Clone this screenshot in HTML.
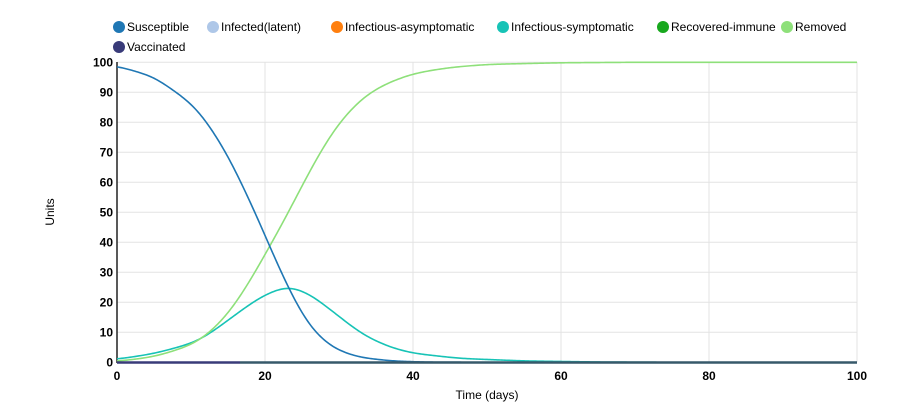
<!DOCTYPE html>
<html><head><meta charset="utf-8"><style>
body{margin:0;background:#fff;}
svg{display:block;font-family:"Liberation Sans",Arial,sans-serif;}
</style></head><body>
<svg id="s" width="908" height="416" xmlns="http://www.w3.org/2000/svg">
<g font-size="12" fill="#000">
<circle cx="119" cy="27" r="6" fill="#1f77b4"/><text x="127" y="31">Susceptible</text>
<circle cx="213" cy="27" r="6" fill="#aec7e8"/><text x="221" y="31">Infected(latent)</text>
<circle cx="337" cy="27" r="6" fill="#ff7f0e"/><text x="345" y="31">Infectious-asymptomatic</text>
<circle cx="503" cy="27" r="6" fill="#17c3b6"/><text x="511" y="31">Infectious-symptomatic</text>
<circle cx="663" cy="27" r="6" fill="#18a81e"/><text x="671" y="31">Recovered-immune</text>
<circle cx="787" cy="27" r="6" fill="#8ee07a"/><text x="795" y="31">Removed</text>
<circle cx="119" cy="47" r="6" fill="#393b79"/><text x="127" y="51">Vaccinated</text>
</g>
<g id="grid" stroke="#e3e3e3" stroke-width="1"></g>
<g id="lbl" font-size="12" font-weight="bold"></g>
<line x1="117" y1="62" x2="117" y2="363" stroke="#222" stroke-width="1.5"/>
<g id="lines" fill="none" stroke-width="1.6"></g>
<line x1="117" y1="362.5" x2="240" y2="362.5" stroke="#393b79" stroke-width="2.5"/>
<line x1="240" y1="362.5" x2="857" y2="362.5" stroke="#37596a" stroke-width="2.5"/>
<text x="487" y="399" font-size="12" text-anchor="middle">Time (days)</text>
<text transform="translate(54,212) rotate(-90)" font-size="12" text-anchor="middle">Units</text>
</svg>
<script>
var NS="http://www.w3.org/2000/svg";
function X(t){return 117+t*7.4;}function Y(v){return 362.3-v*3;}
var g=document.getElementById('grid'),l=document.getElementById('lbl');
function el(p,tag,a,txt){var e=document.createElementNS(NS,tag);for(var k in a)e.setAttribute(k,a[k]);if(txt!=null)e.textContent=txt;p.appendChild(e);}
for(var v=10;v<=100;v+=10)el(g,'line',{x1:117,x2:857,y1:Y(v),y2:Y(v)});
for(var t=20;t<=100;t+=20)el(g,'line',{x1:X(t),x2:X(t),y1:62,y2:362});
for(var v=0;v<=100;v+=10)el(l,'text',{x:113,y:Y(v)+4,'text-anchor':'end'},v);
for(var t=0;t<=100;t+=20)el(l,'text',{x:X(t),y:380,'text-anchor':'middle'},t);
function interp(pts,t){for(var i=0;i<pts.length-1;i++){if(t<=pts[i+1][0]){var a=pts[i],b=pts[i+1];return a[1]+(b[1]-a[1])*(t-a[0])/(b[0]-a[0]);}}return pts[pts.length-1][1];}
var S=[[-10,99.6],[0,98.8],[5,95.2],[10,86.5],[12,80.8],[15,69],[18,53.6],[20,42.4],[22,30.8],[23.1,25.2],[24,20.5],[26,11.9],[28.3,6.3],[30,3.8],[32.8,1.6],[37.3,0.4],[42,0.05],[50,0],[110,0]];
var R=[[-10,0],[0,0.3],[5,1.8],[10,5.6],[12,8.6],[15,15.8],[18,27],[20,36],[22,44.5],[24,54],[26,63.6],[28,72.5],[30,80],[33,88],[36,92.6],[40,96.3],[45,98.3],[50,99.3],[60,99.85],[70,100],[110,100]];
var I=[[-10,0.6],[0,1],[5,2.9],[10,6.2],[12,8.6],[15,14],[18,19.5],[20,22.6],[23.1,25.6],[26,22.9],[28.3,18.6],[30,15.3],[32.8,9.9],[35,7],[37.3,4.7],[40,3],[46.3,1.3],[55,0.45],[65,0.1],[75,0],[110,0]];
var L=document.getElementById('lines');
function draw(p,c,sig){var st=0.2,raw=[],ts=[];for(var t=-10;t<=110;t+=st){ts.push(t);raw.push(interp(p,t));}
var k=Math.ceil(3*sig/st),d='',first=true;
for(var i=0;i<ts.length;i++){var t=ts[i];if(t<-0.001||t>100.001)continue;var s=0,w=0;for(var j=-k;j<=k;j++){var q=i+j;if(q<0||q>=raw.length)continue;var ww=Math.exp(-0.5*Math.pow(j*st/sig,2));s+=ww*raw[q];w+=ww;}
var v=Math.max(0,Math.min(100,s/w));d+=(first?'M':'L')+X(t).toFixed(2)+','+Y(v).toFixed(2);first=false;}
el(L,'path',{d:d,stroke:c});}
draw(I,'#17c3b6',1.3);draw(R,'#8ee07a',1.5);draw(S,'#1f77b4',1.3);
</script>
</body></html>
